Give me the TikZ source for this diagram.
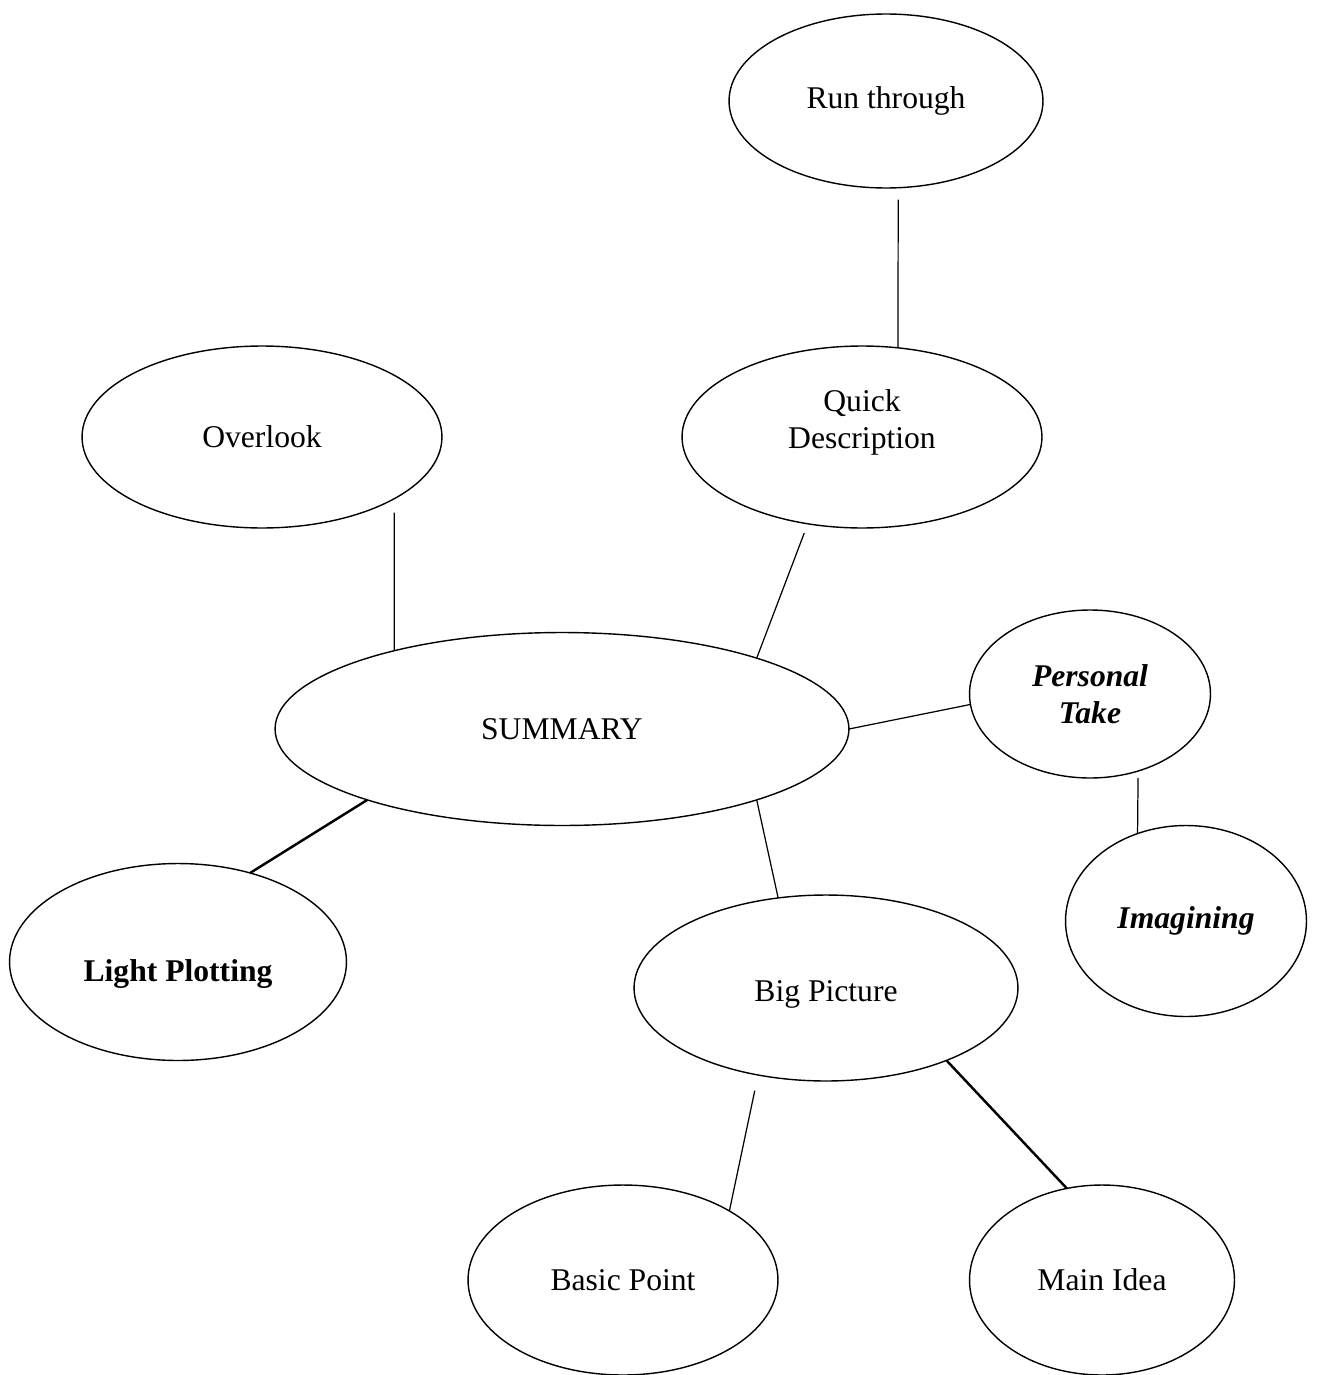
\documentclass[tikz,border=0pt]{standalone}
\usepackage{fontspec}
\setmainfont{Liberation Serif}
\usetikzlibrary{shapes.geometric}
\tikzset{
  bubble/.style={draw, ellipse, line width=0.8pt, inner sep=0pt, outer sep=0pt, align=center, font=\fontsize{18}{20.7}\selectfont},
  boldbubble/.style={bubble, font=\fontsize{18}{20.7}\selectfont\bfseries},
  slantbubble/.style={bubble, font=\fontsize{18}{20.7}\selectfont\bfseries\itshape},
  link/.style={line width=0.7pt},
  heavylink/.style={line width=1.4pt}
}
\begin{document}
\begin{tikzpicture}[x=0.02cm, y=-0.02cm]
  \useasboundingbox (0,0) rectangle (1317,1375);
  \node[bubble, minimum width=6.28cm, minimum height=3.48cm] (run) at (886,101) {Run through};
  \node[bubble, text depth=0.72cm, minimum width=7.2cm, minimum height=3.64cm] (quick) at (862,437) {Quick\\Description};
  \node[bubble, minimum width=7.2cm, minimum height=3.64cm] (overlook) at (262,437) {Overlook};
  \node[bubble, minimum width=11.48cm, minimum height=3.86cm] (summary) at (562,729) {SUMMARY};
  \node[slantbubble, minimum width=4.82cm, minimum height=3.36cm] (personal) at (1090,694) {Personal\\Take};
  \node[slantbubble, minimum width=4.82cm, minimum height=3.82cm] (imagining) at (1186,921) {Imagining};
  \node[boldbubble, text height=0.9cm, minimum width=6.74cm, minimum height=3.94cm] (light) at (178,962) {Light Plotting};
  \node[bubble, text height=0.66cm, minimum width=7.68cm, minimum height=3.72cm] (big) at (826,988) {Big Picture};
  \node[bubble, minimum width=6.2cm, minimum height=3.8cm] (basic) at (623,1280) {Basic Point};
  \node[bubble, minimum width=5.3cm, minimum height=3.8cm] (main) at (1102,1280) {Main Idea};
  \draw[link, shorten <=0.24cm] (run.-82) -- (quick.68);
  \draw[link, shorten <=0.28cm] (overlook.-25) -- (summary.155);
  \draw[link, shorten <=0.2cm] (quick.-122) -- (summary.20);
  \draw[link] (summary.0) -- (personal.185);
  \draw[link, shorten <=0.14cm] (personal.-58) -- (imagining.119);
  \draw[heavylink] (summary.-160) -- (light.51);
  \draw[link] (summary.-20) -- (big.118);
  \draw[link, shorten <=0.32cm] (big.-128) -- (basic.33);
  \draw[heavylink] (big.-31) -- (main.111);
\end{tikzpicture}
\end{document}
